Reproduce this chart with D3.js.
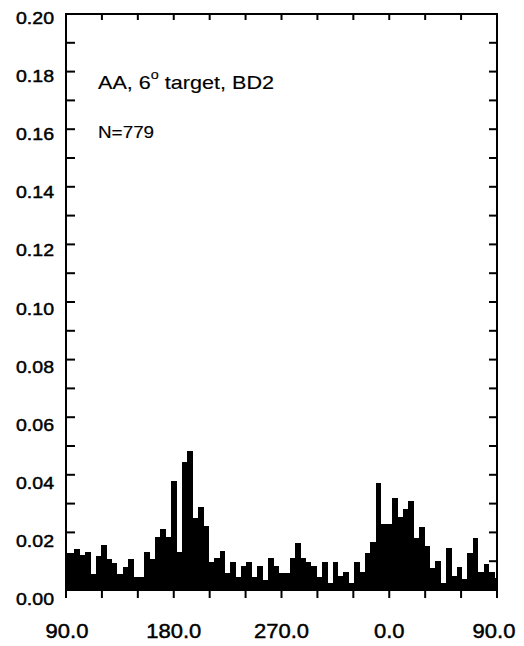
<!DOCTYPE html>
<html><head><meta charset="utf-8">
<script src="https://cdn.jsdelivr.net/npm/d3@7"></script>
<style>
body{margin:0;background:#fff}
svg{display:block}
text{font-family:"Liberation Sans",Arial,sans-serif;fill:#000;stroke:#000;stroke-width:0.45px}
text.note{stroke-width:0.15px}
</style>
</head><body>
<svg id="chart" width="524" height="646"></svg>
<script>
// ---- data ----
const binCenters = d3.range(90, 450.001, 4.5); // 81 bin centres (deg, unwrapped 90..450)
const frequencies = [
  0.0130, 0.0130, 0.0142, 0.0122, 0.0133, 0.0055, 0.0119, 0.0156, 0.0108, 0.0093,
  0.0055, 0.0080, 0.0108, 0.0044, 0.0044, 0.0133, 0.0108, 0.0185, 0.0211, 0.0183,
  0.0380, 0.0133, 0.0443, 0.0483, 0.0249, 0.0289, 0.0223, 0.0096, 0.0110, 0.0135,
  0.0058, 0.0096, 0.0046, 0.0084, 0.0096, 0.0046, 0.0084, 0.0035, 0.0112, 0.0085,
  0.0058, 0.0058, 0.0112, 0.0163, 0.0112, 0.0097, 0.0085, 0.0046, 0.0098, 0.0024,
  0.0098, 0.0049, 0.0062, 0.0024, 0.0098, 0.0061, 0.0127, 0.0167, 0.0372, 0.0228,
  0.0228, 0.0320, 0.0255, 0.0282, 0.0309, 0.0180, 0.0218, 0.0153, 0.0077, 0.0102,
  0.0025, 0.0145, 0.0050, 0.0079, 0.0038, 0.0130, 0.0180, 0.0064, 0.0090, 0.0064,
  0.0042
];
const binWidth = 4.5;
const xTickValues = [90, 120, 150, 180, 210, 240, 270, 300, 330, 360, 390, 420, 450];
const xLabelValues = [90, 180, 270, 360, 450];
const xLabelTexts = ["90.0", "180.0", "270.0", "0.0", "90.0"];
const yTickValues = d3.range(0, 21).map(i => i / 100);
const yLabelValues = [0, 0.02, 0.04, 0.06, 0.08, 0.10, 0.12, 0.14, 0.16, 0.18, 0.20];
const titleMain = "AA, 6";
const titleSup = "o";
const titleRest = " target, BD2";
const countLabel = "N=779";

// ---- layout ----
const svg = d3.select("#chart");
const x = d3.scaleLinear().domain([90, 450]).range([66, 497]);
const y = d3.scaleLinear().domain([0, 0.20]).range([590, 14]);
const yLab = d3.scaleLinear().domain([0, 0.20]).range([599, 18]);

// bars
const bars = binCenters.map((c, i) => ({
  a0: Math.max(90, c - binWidth / 2),
  a1: Math.min(450, c + binWidth / 2),
  v: frequencies[i]
}));
svg.append("g").attr("shape-rendering", "crispEdges")
  .selectAll("rect").data(bars).join("rect")
  .attr("x", d => x(d.a0))
  .attr("width", d => x(d.a1) - x(d.a0) + 0.3)
  .attr("y", d => y(d.v))
  .attr("height", d => y(0) - y(d.v))
  .attr("fill", "#000");

// frame
const sw = 2;
const frame = svg.append("g").attr("stroke", "#000").attr("stroke-width", sw).attr("fill", "none");
frame.append("rect").attr("x", x(90)).attr("y", y(0.2)).attr("width", x(450) - x(90)).attr("height", y(0) - y(0.2));

// y ticks left (inward) and right (inward)
frame.selectAll("line.yl").data(yTickValues).join("line").attr("class", "yl")
  .attr("x1", x(90)).attr("x2", x(90) + 9).attr("y1", d => y(d)).attr("y2", d => y(d));
frame.selectAll("line.yr").data(yTickValues).join("line").attr("class", "yr")
  .attr("x1", x(450)).attr("x2", x(450) - 8).attr("y1", d => y(d)).attr("y2", d => y(d));
// x ticks top (inward) and bottom (outward)
frame.selectAll("line.xt").data(xTickValues).join("line").attr("class", "xt")
  .attr("x1", d => x(d)).attr("x2", d => x(d)).attr("y1", y(0.2)).attr("y2", y(0.2) + 6);
frame.selectAll("line.xb").data(xTickValues).join("line").attr("class", "xb")
  .attr("x1", d => x(d)).attr("x2", d => x(d)).attr("y1", y(0)).attr("y2", y(0) + 8);

// y labels
svg.append("g").selectAll("text").data(yLabelValues).join("text")
  .attr("transform", d => `translate(54,${yLab(d) + 6}) scale(1.15,1)`)
  .attr("text-anchor", "end")
  .style("font-size", "17px")
  .text(d => d.toFixed(2));

// x labels
svg.append("g").selectAll("text").data(xLabelValues).join("text")
  .attr("transform", (d, i) => `translate(${x(d) + (i === 0 ? 1 : (i === 4 ? -3 : 0))},638) scale(1.1,1)`)
  .attr("text-anchor", "middle")
  .style("font-size", "20px")
  .text((d, i) => xLabelTexts[i]);

// annotations
const t = svg.append("text").attr("class", "note")
  .attr("transform", "translate(98,89) scale(1.2,1)")
  .style("font-size", "18px");
t.append("tspan").text(titleMain);
t.append("tspan").attr("dy", -10).style("font-size", "12px").text(titleSup);
t.append("tspan").attr("dy", 10).text(titleRest);

svg.append("text").attr("class", "note")
  .attr("transform", "translate(98,138) scale(1.18,1)")
  .style("font-size", "16px")
  .text(countLabel);
</script>
</body></html>
